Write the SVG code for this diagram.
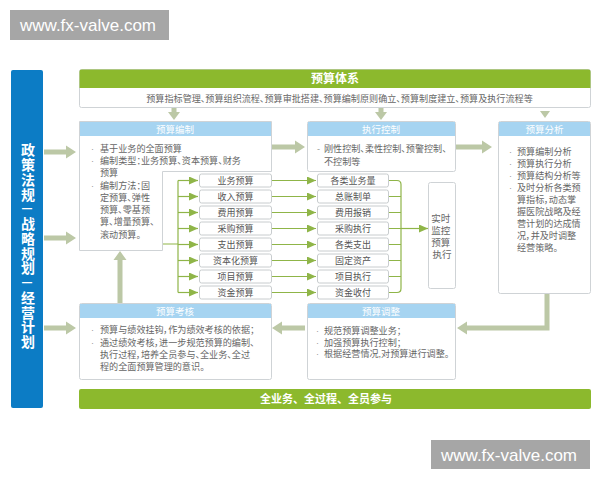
<svg xmlns="http://www.w3.org/2000/svg" width="600" height="480" viewBox="0 0 600 480">
<defs>
<style>
.cn{font-family:"Liberation Sans","Noto Sans CJK SC",sans-serif;}
.box{fill:#ffffff;stroke:#cfd3d6;stroke-width:1;}
.hdr{fill:#a6d4f1;}
.hdrt{font-size:9.5px;fill:#ffffff;text-anchor:middle;}
.body{font-size:9.1px;fill:#666666;font-feature-settings:"palt";}
.bul{fill:#999999;}
.item{fill:#ffffff;stroke:#c8ccce;stroke-width:1;}
.itemt{font-size:9px;fill:#555555;text-anchor:middle;}
.big{fill:#bcc8a6;}
.thin{fill:none;stroke:#8fb548;stroke-width:1.2;}
.wm{fill:#a6a6a6;}
.wmt{font-family:"Liberation Sans",Arial,sans-serif;font-size:17px;fill:#ffffff;}
.vert{font-size:14px;font-weight:bold;fill:#ffffff;writing-mode:vertical-rl;text-orientation:upright;letter-spacing:0.75px;}
.dash{font-family:"Liberation Sans",Arial,sans-serif;font-size:10px;font-weight:bold;fill:#ffffff;text-anchor:middle;}
</style>
<marker id="ah" markerUnits="userSpaceOnUse" markerWidth="9" markerHeight="8" refX="9" refY="4" orient="auto">
<path d="M0,0 L9,4 L0,8 z" fill="#8fb548"/>
</marker>
</defs>
<rect width="600" height="480" fill="#ffffff"/>

<g id="watermark-top">
<rect class="wm" x="10" y="10" width="159" height="30"/>
<text class="wmt" x="20" y="31">www.fx-valve.com</text>
</g>
<g id="watermark-bottom">
<rect class="wm" x="431" y="440" width="159" height="29"/>
<text class="wmt" x="441" y="461">www.fx-valve.com</text>
</g>

<g id="side-bar">
<rect x="11" y="70" width="32" height="338" rx="2" fill="#0c7cc5"/>
<text class="cn vert" x="27" y="143">政策法规</text>
<text class="dash" x="27" y="212">—</text>
<text class="cn vert" x="27" y="216.75">战略规划</text>
<text class="dash" x="27" y="286">—</text>
<text class="cn vert" x="27" y="290.5">经营计划</text>
</g>

<g id="system">
<rect class="box" x="79.5" y="69.5" width="511" height="38" rx="2"/>
<path d="M79.5,88 V71.5 Q79.5,69.5 81.5,69.5 H588.5 Q590.5,69.5 590.5,71.5 V88 Z" fill="#8cb92d"/>
<text class="cn" x="335" y="83" font-size="12" font-weight="bold" fill="#ffffff" text-anchor="middle">预算体系</text>
<text class="cn body" x="339.5" y="101.5" font-size="9.6" text-anchor="middle">预算指标管理、预算组织流程、预算审批搭建、预算编制原则确立、预算制度建立、预算及执行流程等</text>
</g>

<g id="compile">
<path class="box" d="M79.5,121.5 H271.5 V171.5 H162.5 V250.5 H79.5 Z"/>
<rect class="hdr" x="80" y="122" width="191" height="14"/>
<text class="cn hdrt" x="175" y="132.5">预算编制</text>
<text class="cn body">
<tspan class="bul" x="91" y="152">·</tspan><tspan x="100" y="152">基于业务的全面预算</tspan>
<tspan class="bul" x="91" y="164">·</tspan><tspan x="100" y="164">编制类型：业务预算、资本预算、财务</tspan>
<tspan x="100" y="176">预算</tspan>
<tspan class="bul" x="91" y="188.5">·</tspan><tspan x="100" y="188.5">编制方法：固</tspan>
<tspan x="100" y="201">定预算、弹性</tspan>
<tspan x="100" y="213">预算、零基预</tspan>
<tspan x="100" y="225">算、增量预算、</tspan>
<tspan x="100" y="237.5">滚动预算。</tspan>
</text>
</g>

<g id="control">
<rect class="box" x="307.5" y="121.5" width="148" height="50" rx="2"/>
<rect class="hdr" x="308" y="122" width="147" height="14"/>
<text class="cn hdrt" x="381" y="132.5">执行控制</text>
<text class="cn body">
<tspan class="bul" x="317" y="152">-</tspan><tspan x="324" y="152">刚性控制、柔性控制、预警控制、</tspan>
<tspan x="324" y="165">不控制等</tspan>
</text>
</g>

<g id="analysis">
<rect class="box" x="498.5" y="121.5" width="92" height="172" rx="2"/>
<rect class="hdr" x="499" y="122" width="91" height="14"/>
<text class="cn hdrt" x="544.5" y="132.5">预算分析</text>
<text class="cn body">
<tspan class="bul" x="509" y="155">·</tspan><tspan x="517" y="155">预算编制分析</tspan>
<tspan class="bul" x="509" y="167">·</tspan><tspan x="517" y="167">预算执行分析</tspan>
<tspan class="bul" x="509" y="179">·</tspan><tspan x="517" y="179">预算结构分析等</tspan>
<tspan class="bul" x="509" y="191">·</tspan><tspan x="517" y="191">及时分析各类预</tspan>
<tspan x="517" y="203">算指标，动态掌</tspan>
<tspan x="517" y="215">握医院战略及经</tspan>
<tspan x="517" y="227">营计划的达成情</tspan>
<tspan x="517" y="239">况，并及时调整</tspan>
<tspan x="517" y="251">经营策略。</tspan>
</text>
</g>

<g id="monitor">
<rect class="box" x="428.5" y="182.5" width="27" height="106" rx="2"/>
<text class="cn" font-size="9.5" fill="#666666" text-anchor="middle">
<tspan x="442" y="222">实时</tspan>
<tspan x="442" y="234">监控</tspan>
<tspan x="442" y="246">预算</tspan>
<tspan x="442" y="258">执行</tspan>
</text>
</g>

<g id="budget-items">
<rect class="item" x="199.5" y="174" width="72" height="13" rx="2"/><text class="cn itemt" x="235.5" y="183.5">业务预算</text>
<rect class="item" x="199.5" y="190" width="72" height="13" rx="2"/><text class="cn itemt" x="235.5" y="199.5">收入预算</text>
<rect class="item" x="199.5" y="206" width="72" height="13" rx="2"/><text class="cn itemt" x="235.5" y="215.5">费用预算</text>
<rect class="item" x="199.5" y="222" width="72" height="13" rx="2"/><text class="cn itemt" x="235.5" y="231.5">采购预算</text>
<rect class="item" x="199.5" y="238" width="72" height="13" rx="2"/><text class="cn itemt" x="235.5" y="247.5">支出预算</text>
<rect class="item" x="199.5" y="254" width="72" height="13" rx="2"/><text class="cn itemt" x="235.5" y="263.5">资本化预算</text>
<rect class="item" x="199.5" y="270" width="72" height="13" rx="2"/><text class="cn itemt" x="235.5" y="279.5">项目预算</text>
<rect class="item" x="199.5" y="286" width="72" height="13" rx="2"/><text class="cn itemt" x="235.5" y="295.5">资金预算</text>
</g>

<g id="exec-items">
<rect class="item" x="317.5" y="174" width="71" height="13" rx="2"/><text class="cn itemt" x="353" y="183.5">各类业务量</text>
<rect class="item" x="317.5" y="190" width="71" height="13" rx="2"/><text class="cn itemt" x="353" y="199.5">总账制单</text>
<rect class="item" x="317.5" y="206" width="71" height="13" rx="2"/><text class="cn itemt" x="353" y="215.5">费用报销</text>
<rect class="item" x="317.5" y="222" width="71" height="13" rx="2"/><text class="cn itemt" x="353" y="231.5">采购执行</text>
<rect class="item" x="317.5" y="238" width="71" height="13" rx="2"/><text class="cn itemt" x="353" y="247.5">各类支出</text>
<rect class="item" x="317.5" y="254" width="71" height="13" rx="2"/><text class="cn itemt" x="353" y="263.5">固定资产</text>
<rect class="item" x="317.5" y="270" width="71" height="13" rx="2"/><text class="cn itemt" x="353" y="279.5">项目执行</text>
<rect class="item" x="317.5" y="286" width="71" height="13" rx="2"/><text class="cn itemt" x="353" y="295.5">资金收付</text>
</g>

<g id="assess">
<rect class="box" x="79.5" y="303.5" width="192" height="76" rx="2"/>
<rect class="hdr" x="80" y="304" width="191" height="14"/>
<text class="cn hdrt" x="175" y="314.5">预算考核</text>
<text class="cn body">
<tspan class="bul" x="91" y="333">·</tspan><tspan x="100" y="333">预算与绩效挂钩，作为绩效考核的依据；</tspan>
<tspan class="bul" x="91" y="345.5">·</tspan><tspan x="100" y="345.5">通过绩效考核，进一步规范预算的编制、</tspan>
<tspan x="100" y="357.5">执行过程，培养全员参与、全业务、全过</tspan>
<tspan x="100" y="369.5">程的全面预算管理的意识。</tspan>
</text>
</g>

<g id="adjust">
<rect class="box" x="307.5" y="303.5" width="148" height="76" rx="2"/>
<rect class="hdr" x="308" y="304" width="147" height="14"/>
<text class="cn hdrt" x="381" y="314.5">预算调整</text>
<text class="cn body">
<tspan class="bul" x="316" y="334">·</tspan><tspan x="324" y="334">规范预算调整业务；</tspan>
<tspan class="bul" x="316" y="345.5">·</tspan><tspan x="324" y="345.5">加强预算执行控制；</tspan>
<tspan class="bul" x="316" y="357">·</tspan><tspan x="324" y="357">根据经营情况,对预算进行调整。</tspan>
</text>
</g>

<g id="footer">
<rect x="79" y="389" width="512" height="20" rx="2" fill="#8cb92d"/>
<text class="cn" x="326" y="403" font-size="11" font-weight="bold" fill="#ffffff" text-anchor="middle">全业务、全过程、全员参与</text>
</g>

<g id="connectors">
<polygon class="big" points="44,149.5 66,149.5 66,145.5 76,152 66,158.5 66,154.5 44,154.5"/>
<polygon class="big" points="44,235.5 66,235.5 66,231.5 76,238 66,244.5 66,240.5 44,240.5"/>
<polygon class="big" points="44,325.5 66,325.5 66,321.5 76,328 66,334.5 66,330.5 44,330.5"/>
<polygon class="big" points="171.5,108 176.5,108 176.5,112 180,112 174,120 168,112 171.5,112"/>
<polygon class="big" points="378.5,108 383.5,108 383.5,112 387,112 381,120 375,112 378.5,112"/>
<polygon class="big" points="540,111 550,111 545,118"/>
<polygon class="big" points="272,144.5 295,144.5 295,140.5 305,147 295,153.5 295,149.5 272,149.5"/>
<polygon class="big" points="456,144.5 482,144.5 482,140.5 492,147 482,153.5 482,149.5 456,149.5"/>
<polygon class="big" points="305,325.5 282,325.5 282,321.5 272,328 282,334.5 282,330.5 305,330.5"/>
<polygon class="big" points="544.5,294 549.5,294 549.5,330.5 467,330.5 467,334.5 457,328 467,321.5 467,325.5 544.5,325.5"/>
<polygon class="big" points="117.5,303 117.5,260 113.5,260 120,251 126.5,260 122.5,260 122.5,303"/>

<path class="thin" d="M163,244 H178 M178,180.5 V292.5"/>
<path class="thin" marker-end="url(#ah)" d="M178,180.5 H198"/>
<path class="thin" marker-end="url(#ah)" d="M178,196.5 H198"/>
<path class="thin" marker-end="url(#ah)" d="M178,212.5 H198"/>
<path class="thin" marker-end="url(#ah)" d="M178,228.5 H198"/>
<path class="thin" marker-end="url(#ah)" d="M178,244.5 H198"/>
<path class="thin" marker-end="url(#ah)" d="M178,260.5 H198"/>
<path class="thin" marker-end="url(#ah)" d="M178,276.5 H198"/>
<path class="thin" marker-end="url(#ah)" d="M178,292.5 H198"/>

<path class="thin" marker-end="url(#ah)" d="M272,180.5 H316"/>
<path class="thin" marker-end="url(#ah)" d="M272,196.5 H316"/>
<path class="thin" marker-end="url(#ah)" d="M272,212.5 H316"/>
<path class="thin" marker-end="url(#ah)" d="M272,228.5 H316"/>
<path class="thin" marker-end="url(#ah)" d="M272,244.5 H316"/>
<path class="thin" marker-end="url(#ah)" d="M272,260.5 H316"/>
<path class="thin" marker-end="url(#ah)" d="M272,276.5 H316"/>
<path class="thin" marker-end="url(#ah)" d="M272,292.5 H316"/>

<path class="thin" stroke="#b4c08f" d="M389,180.5 H397 Q401,180.5 401,184.5 V288.5 Q401,292.5 397,292.5 H389 M389,196.5 H401 M389,212.5 H401 M389,228.5 H401 M389,244.5 H401 M389,260.5 H401 M389,276.5 H401"/>
<path class="thin" marker-end="url(#ah)" d="M401,228.5 H428"/>
</g>
</svg>
